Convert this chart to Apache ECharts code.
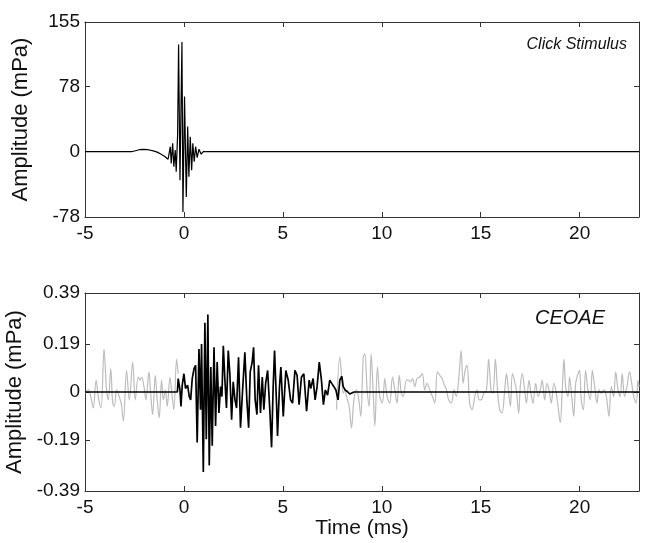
<!DOCTYPE html>
<html>
<head>
<meta charset="utf-8">
<script src="https://cdn.jsdelivr.net/npm/echarts@6/dist/echarts.min.js"></script>
<style>html,body{margin:0;padding:0;background:#fff;}#c{width:660px;height:543px;}</style>
</head>
<body>
<div id="c"></div>
<script>
// ---- Data (time in ms, amplitude in mPa) ----
var xTicks = [-5, 0, 5, 10, 15, 20];
var topYTicks = [-78, 0, 78, 155];
var botYTicks = [-0.39, -0.19, 0, 0.19, 0.39];

// Click stimulus
var stimT = [-5, -2.65, -2.45, -2.25, -2.05, -1.8, -1.55, -1.35, -1.15, -0.95, -0.8, -0.72, -0.69, -0.64, -0.57, -0.51, -0.44, -0.39, -0.32, -0.27, -0.2, -0.1, -0.05, 0.03, 0.12, 0.19, 0.25, 0.32, 0.39, 0.45, 0.52, 0.59, 0.67, 0.76, 0.87, 0.99, 1.1, 23];
var stimV = [0, 0, 1.2, 2.4, 2.9, 2.4, 1, -0.5, -3, -6, -9, -10, 6, -14, 10, -18, 2, -24, 20, 128, -34, 131, -72, 66, -54, 30, -30, 18, -22, 10, -12, 6, -7, 3, -3, 0.5, 0, 0];

// CEOAE raw recording (gray), two visible stretches
var rawT1 = [-5, -4.83, -4.71, -4.58, -4.44, -4.33, -4.19, -4.04, -3.91, -3.82, -3.7, -3.6, -3.52, -3.4, -3.27, -3.16, -3.06, -2.9, -2.76, -2.59, -2.46, -2.31, -2.22, -2.14, -2.02, -1.92, -1.77, -1.67, -1.58, -1.45, -1.35, -1.25, -1.13, -1.04, -0.94, -0.84, -0.71, -0.61, -0.51, -0.37, -0.29];
var rawV1 = [-0.005, 0.008, -0.018, -0.063, 0.047, -0.018, -0.063, 0.169, 0.008, -0.031, 0.092, -0.044, -0.057, 0.008, -0.018, -0.05, -0.115, 0.085, -0.031, 0.118, -0.031, 0.059, 0.047, 0.059, 0.021, -0.031, 0.079, -0.018, -0.089, 0.066, -0.031, -0.102, 0.047, -0.031, 0.008, -0.057, 0.059, -0.005, -0.07, 0.13, 0.072];
var rawT2 = [7.71, 7.88, 7.96, 8.05, 8.13, 8.22, 8.35, 8.47, 8.59, 8.72, 8.84, 8.94, 9.06, 9.14, 9.26, 9.36, 9.46, 9.56, 9.65, 9.78, 9.9, 10.03, 10.15, 10.27, 10.4, 10.54, 10.66, 10.77, 10.88, 10.99, 11.08, 11.25, 11.33, 11.45, 11.55, 11.67, 11.78, 11.92, 12.05, 12.17, 12.29, 12.42, 12.56, 12.68, 12.81, 12.93, 13.05, 13.13, 13.27, 13.38, 13.52, 13.65, 13.77, 13.89, 14.01, 14.11, 14.21, 14.31, 14.44, 14.56, 14.7, 14.81, 14.92, 15.03, 15.15, 15.29, 15.4, 15.52, 15.62, 15.74, 15.86, 15.96, 16.08, 16.2, 16.3, 16.4, 16.5, 16.6, 16.7, 16.8, 16.92, 17.0, 17.1, 17.22, 17.31, 17.44, 17.54, 17.64, 17.78, 17.9, 18.01, 18.11, 18.23, 18.35, 18.45, 18.57, 18.69, 18.79, 18.91, 19.02, 19.12, 19.21, 19.29, 19.41, 19.49, 19.6, 19.7, 19.8, 19.92, 20.0, 20.08, 20.19, 20.3, 20.42, 20.54, 20.64, 20.76, 20.88, 20.98, 21.09, 21.21, 21.35, 21.48, 21.6, 21.72, 21.82, 21.94, 22.05, 22.15, 22.27, 22.39, 22.52, 22.61, 22.73, 22.86, 22.95, 23];
var rawV2 = [-0.07, 0.137, 0.072, -0.005, 0.008, -0.018, -0.057, -0.141, -0.031, 0.008, -0.031, -0.096, 0.137, 0.15, 0.008, -0.057, 0.15, 0.008, -0.134, 0.098, -0.018, -0.044, 0.053, -0.018, -0.044, 0.059, 0.008, -0.044, 0.066, -0.005, -0.018, 0.047, 0.047, 0.04, 0.053, 0.021, 0.053, 0.059, 0.072, 0.008, 0.034, 0.008, -0.018, -0.044, 0.079, 0.066, 0.053, 0.034, 0.008, -0.031, -0.044, 0.008, -0.018, 0.053, 0.163, 0.034, 0.085, 0.105, -0.044, -0.07, -0.018, 0.008, -0.031, -0.031, -0.005, 0.008, 0.13, 0.008, -0.005, 0.13, -0.005, -0.07, -0.083, -0.005, 0.072, 0.008, -0.057, 0.072, 0.047, 0.008, -0.083, 0.021, 0.072, 0.008, -0.044, 0.047, -0.005, -0.044, 0.034, -0.018, 0.008, 0.047, -0.031, 0.034, 0.008, -0.044, 0.034, 0.008, -0.057, -0.121, 0.008, 0.13, 0.021, -0.018, 0.059, -0.018, -0.096, 0.034, 0.072, 0.085, -0.031, -0.07, 0.085, 0.008, -0.031, 0.085, 0.021, -0.044, 0.008, -0.005, 0.008, -0.018, -0.096, 0.021, -0.018, 0.079, 0.008, -0.018, 0.072, -0.018, 0.021, 0.079, 0.047, -0.018, -0.044, 0.047, 0.02];

// Windowed CEOAE (black)
var ceoaeT = [-5, -0.33, -0.29, -0.2, -0.15, -0.085, 0.0, 0.08, 0.185, 0.27, 0.34, 0.42, 0.51, 0.59, 0.67, 0.76, 0.84, 0.89, 0.98, 1.06, 1.13, 1.21, 1.28, 1.36, 1.43, 1.52, 1.6, 1.68, 1.77, 1.85, 1.92, 1.99, 2.07, 2.15, 2.24, 2.32, 2.41, 2.49, 2.58, 2.66, 2.76, 2.86, 2.96, 3.08, 3.18, 3.27, 3.35, 3.45, 3.52, 3.6, 3.69, 3.77, 3.87, 3.96, 4.04, 4.13, 4.23, 4.34, 4.43, 4.51, 4.58, 4.68, 4.73, 4.83, 4.9, 5.02, 5.15, 5.27, 5.39, 5.49, 5.61, 5.72, 5.82, 5.94, 6.06, 6.2, 6.33, 6.41, 6.53, 6.63, 6.73, 6.84, 6.95, 7.05, 7.15, 7.26, 7.37, 7.47, 7.58, 7.68, 7.79, 7.88, 7.98, 8.05, 8.15, 8.27, 8.38, 8.47, 8.59, 23];
var ceoaeV = [0, 0, 0.053, 0.008, -0.057, 0.027, 0.072, 0.014, 0.027, -0.018, -0.031, 0.053, 0.092, 0.105, -0.199, 0.169, -0.07, 0.189, -0.315, 0.273, -0.186, 0.305, -0.289, 0.098, -0.212, 0.176, -0.134, 0.118, -0.083, 0.021, -0.018, 0.182, 0.047, -0.063, 0.163, 0.072, -0.109, 0.04, -0.031, -0.063, 0.137, -0.141, 0.001, 0.156, -0.031, -0.141, 0.079, 0.118, 0.176, -0.031, -0.089, 0.105, -0.083, 0.059, -0.07, 0.034, 0.085, -0.07, -0.218, 0.021, 0.163, -0.044, -0.173, 0.021, 0.098, -0.096, 0.085, 0.047, -0.031, -0.044, 0.085, 0.066, -0.05, 0.059, 0.072, -0.076, 0.047, 0.014, 0.053, -0.031, 0.021, 0.118, 0.047, -0.05, 0.008, -0.012, 0.047, 0.034, 0.021, 0.008, -0.031, 0.047, 0.062, 0.021, 0.008, 0.001, -0.008, -0.003, 0, 0];

function zip(t, v) { return t.map(function (x, i) { return [x, v[i]]; }); }
var rawData = zip(rawT1, rawV1).concat([[-0.2, null]]).concat(zip(rawT2, rawV2));

var FONT = 'Liberation Sans, Arial, sans-serif';
var AX = '#333';
function xAx(grid, pos, labels) {
  return {
    type: 'value', gridIndex: grid, position: pos, min: -5, max: 23,
    axisLine: { show: true, onZero: false, lineStyle: { color: AX, width: 1 } },
    axisTick: { show: true, inside: true, length: 5, customValues: xTicks, lineStyle: { color: AX } },
    axisLabel: { show: labels, customValues: xTicks, color: '#111', fontSize: 19, fontFamily: FONT, margin: 7 },
    splitLine: { show: false }
  };
}
function yAx(grid, pos, min, max, ticks, labels, name) {
  return {
    type: 'value', gridIndex: grid, position: pos, min: min, max: max,
    name: name || '', nameLocation: 'middle', nameGap: 53, nameRotate: 90,
    nameTextStyle: { color: '#111', fontSize: 22, fontFamily: FONT },
    axisLine: { show: true, onZero: false, lineStyle: { color: AX, width: 1 } },
    axisTick: { show: true, inside: true, length: 5, customValues: ticks, lineStyle: { color: AX } },
    axisLabel: { show: labels, customValues: ticks, color: '#111', fontSize: 19, fontFamily: FONT, margin: 5 },
    splitLine: { show: false }
  };
}

var chart = echarts.init(document.getElementById('c'), null, { renderer: 'canvas' });
var xb = xAx(1, 'bottom', true);
xb.name = 'Time (ms)'; xb.nameLocation = 'middle'; xb.nameGap = 19;
xb.nameTextStyle = { color: '#111', fontSize: 21, fontFamily: FONT };
chart.setOption({
  animation: false,
  backgroundColor: '#fff',
  grid: [
    { left: 85, top: 22, width: 554, height: 195, containLabel: false, outerBoundsMode: 'none' },
    { left: 85, top: 293, width: 554, height: 198, containLabel: false, outerBoundsMode: 'none' }
  ],
  xAxis: [xAx(0, 'bottom', true), xAx(0, 'top', false), xb, xAx(1, 'top', false)],
  yAxis: [
    yAx(0, 'left', -78, 155, topYTicks, true, 'Amplitude (mPa)'),
    yAx(0, 'right', -78, 155, topYTicks, false),
    yAx(1, 'left', -0.39, 0.39, botYTicks, true, 'Amplitude (mPa)'),
    yAx(1, 'right', -0.39, 0.39, botYTicks, false)
  ],
  series: [
    { type: 'line', xAxisIndex: 0, yAxisIndex: 0, data: zip(stimT, stimV), showSymbol: false, lineStyle: { color: '#000', width: 1.2 } },
    { type: 'line', xAxisIndex: 2, yAxisIndex: 2, data: rawData, showSymbol: false, connectNulls: false, smooth: 0.35, lineStyle: { color: '#bdbdbd', width: 1.2 } },
    { type: 'line', xAxisIndex: 2, yAxisIndex: 2, data: zip(ceoaeT, ceoaeV), showSymbol: false, lineStyle: { color: '#000', width: 1.7 } }
  ],
  graphic: [
    { type: 'text', right: 33, top: 37, style: { text: 'Click Stimulus', font: 'italic 16px ' + FONT, fill: '#111' } },
    { type: 'text', right: 55, top: 308, style: { text: 'CEOAE', font: 'italic 20px ' + FONT, fill: '#111' } }
  ]
});
</script>
</body>
</html>
